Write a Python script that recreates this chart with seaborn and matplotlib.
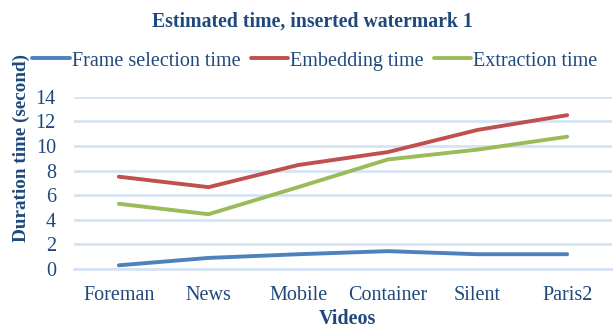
import numpy as np
import pandas as pd
import matplotlib
matplotlib.use("Agg")
import matplotlib.pyplot as plt
import seaborn as sns
from matplotlib.lines import Line2D

videos = ["Foreman", "News", "Mobile", "Container", "Silent", "Paris2"]
frame_selection = [0.3, 0.9, 1.2, 1.45, 1.2, 1.2]
embedding = [7.5, 6.65, 8.45, 9.5, 11.3, 12.5]
extraction = [5.3, 4.45, 6.65, 8.9, 9.7, 10.75]
series_names = ["Frame selection time", "Embedding time", "Extraction time"]
colors = ["#4F81BD", "#C0504D", "#9BBB59"]

sns.set_theme(style="white")
plt.rcParams["font.family"] = ["Liberation Serif", "DejaVu Serif"]
txt = "#1F497D"
grid_c = "#D6E3F2"
fs = 14.5

rows = []
for name, vals in zip(series_names, [frame_selection, embedding, extraction]):
    for i, v in enumerate(vals):
        rows.append({"pos": i, "value": v, "series": name})
df = pd.DataFrame(rows)

fig = plt.figure(figsize=(6.13, 3.28), dpi=100)
ax = fig.add_axes([74/613, 1-269/328, (612-74)/613, (269-96.7)/328])
sns.lineplot(data=df, x="pos", y="value", hue="series", hue_order=series_names,
             palette=colors, linewidth=2.8, ax=ax, legend=False)
for l in ax.lines:
    l.set_solid_capstyle("round")
    l.set_solid_joinstyle("round")

ax.set_xlim(-0.5, 5.5)
ax.set_ylim(0, 14)
ax.set_yticks(np.arange(0, 15, 2))
ax.set_xticks(range(len(videos)))
ax.set_xticklabels(videos)
ax.set_xticks(np.arange(-0.5, 5.6, 1), minor=True)
ax.tick_params(axis="x", which="major", length=0, pad=12, labelsize=fs, labelcolor=txt)
ax.tick_params(axis="x", which="minor", length=5, width=1.5, color=grid_c, direction="out")
ax.tick_params(axis="y", length=0, pad=13, labelsize=fs, labelcolor=txt)
ax.grid(axis="y", color=grid_c, linewidth=2)
ax.set_axisbelow(True)
for s in ["left", "right", "top"]:
    ax.spines[s].set_visible(False)
ax.spines["bottom"].set_color(grid_c)
ax.spines["bottom"].set_linewidth(2)
ax.set_xlabel("Videos", fontsize=fs, fontweight="bold", color=txt)
ax.xaxis.set_label_coords((347-74)/538, -(318.5-269)/172.3)
ax.xaxis.label.set_va("center")
ax.set_ylabel("Duration time (second)", fontsize=13.8, fontweight="bold", color=txt)
ax.yaxis.set_label_coords(-(74-21)/538, (269-147.5)/172.3)
ax.yaxis.label.set_va("center")

fig.text(312/613, 1-22/328, "Estimated time, inserted watermark 1", ha="center", va="center",
         fontsize=14.2, fontweight="bold", color=txt)

handles = [Line2D([], [], color=c, linewidth=2.8) for c in colors]
leg = fig.legend(handles, series_names, loc="center", bbox_to_anchor=(315/613, 1-61/328),
                 ncol=3, frameon=False, fontsize=fs, handlelength=1.85, handletextpad=0.1,
                 columnspacing=0.52)
leg.set_zorder(10)
for t in leg.get_texts():
    t.set_color(txt)

fig.savefig("out.png", dpi=100)
